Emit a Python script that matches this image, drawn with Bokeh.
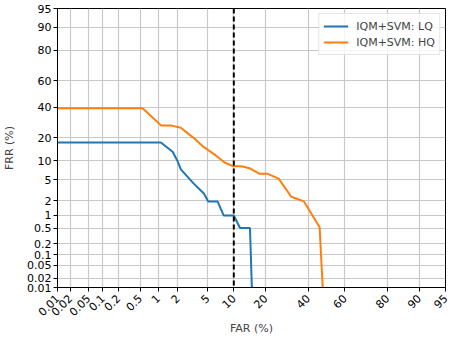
import math
from bokeh.plotting import figure
from bokeh.models import ColumnDataSource, FixedTicker, Span, Legend, LegendItem
from bokeh.embed import file_html
from bokeh.resources import INLINE

# ---- data (percent) ----
LQ_FAR = [0.01, 1.1, 1.67, 1.96, 2.2, 3.3, 4.5, 5.1, 5.7, 6.6, 7.75, 10.0, 11.6, 14.5, 15.1]
LQ_FRR = [17.6, 17.6, 13.4, 10.0, 7.4, 4.3, 2.8, 1.95, 1.95, 1.95, 0.98, 0.98, 0.5, 0.5, 0.01]

HQ_FAR = [0.01, 0.55, 1.12, 1.62, 2.2, 2.87, 3.42, 4.41, 6.3, 7.95, 9.8, 12.3, 14.6,
          17.8, 20.8, 25.4, 31.3, 37.7, 46.2, 47.9]
HQ_FRR = [39.2, 39.2, 27.2, 27.2, 25.8, 21.9, 19.5, 15.6, 11.9, 9.4, 8.3, 8.2, 7.6,
          6.25, 6.25, 5.2, 2.42, 1.96, 0.52, 0.01]

TICKS = [0.01, 0.02, 0.05, 0.1, 0.2, 0.5, 1, 2, 5, 10, 20, 40, 60, 80, 90, 95]
TICK_LABELS = ["0.01", "0.02", "0.05", "0.1", "0.2", "0.5", "1", "2", "5",
               "10", "20", "40", "60", "80", "90", "95"]
THRESHOLD = 10  # FAR (%)
AX_MIN, AX_MAX = 0.01, 95
SERIES = ["IQM+SVM: LQ", "IQM+SVM: HQ"]


def probit(pct):
    p = pct / 100.0
    lo, hi = -12.0, 12.0
    for _ in range(80):
        mid = 0.5 * (lo + hi)
        if 0.5 * (1 + math.erf(mid / math.sqrt(2))) < p:
            lo = mid
        else:
            hi = mid
    return 0.5 * (lo + hi)


FONT = "DejaVu Sans"
FS = 11
rng = (probit(AX_MIN), probit(AX_MAX))

p = figure(width=452, height=338, output_backend="svg", toolbar_location=None,
           x_range=rng, y_range=rng,
           min_border_left=54, min_border_right=7, min_border_top=8, min_border_bottom=40)
p.outline_line_color = "black"
p.outline_line_width = 1
p.background_fill_color = "white"
p.border_fill_color = "white"

src_lq = ColumnDataSource(dict(x=[probit(v) for v in LQ_FAR], y=[probit(v) for v in LQ_FRR]))
src_hq = ColumnDataSource(dict(x=[probit(v) for v in HQ_FAR], y=[probit(v) for v in HQ_FRR]))
r1 = p.line("x", "y", source=src_lq, line_color="#1f77b4", line_width=2)
r2 = p.line("x", "y", source=src_hq, line_color="#ff7f0e", line_width=2)

p.add_layout(Span(location=probit(THRESHOLD), dimension="height", line_color="black",
                  line_width=2, line_dash="5 3"))

tick_pos = [probit(t) for t in TICKS]
overrides = {tp: lab for tp, lab in zip(tick_pos, TICK_LABELS)}
for ax in (p.xaxis[0], p.yaxis[0]):
    ax.ticker = FixedTicker(ticks=tick_pos)
    ax.major_label_overrides = overrides
    ax.major_label_text_font = FONT
    ax.major_label_text_font_size = f"{FS}px"
    ax.major_label_text_color = "black"
    ax.axis_label_text_font = FONT
    ax.axis_label_text_font_size = f"{FS}px"
    ax.axis_label_text_font_style = "normal"
    ax.axis_line_color = "black"
    ax.major_tick_line_color = "black"
    ax.major_tick_out = 4
    ax.major_tick_in = 0
    ax.minor_tick_line_color = None

p.xaxis.axis_label = "FAR (%)"
p.yaxis.axis_label = "FRR (%)"
p.xaxis.major_label_orientation = math.pi / 4
p.xaxis.major_label_standoff = 5
p.xaxis.axis_label_standoff = 0
p.yaxis.major_label_standoff = 2
p.yaxis.axis_label_standoff = 8

for g in (p.xgrid[0], p.ygrid[0]):
    g.ticker = FixedTicker(ticks=tick_pos)
    g.grid_line_color = "#c8c8c8"
    g.grid_line_width = 1.2

legend = Legend(items=[LegendItem(label=SERIES[0], renderers=[r1]),
                       LegendItem(label=SERIES[1], renderers=[r2])],
                location="top_right")
legend.label_text_font = FONT
legend.label_text_font_size = f"{FS}px"
legend.glyph_width = 25
legend.glyph_height = 16
legend.label_height = 16
legend.label_standoff = 8
legend.spacing = 0
legend.padding = 4
legend.margin = 5
legend.border_line_color = "#cccccc"
legend.border_line_width = 1
legend.background_fill_alpha = 0.8
p.add_layout(legend)

open("out.html", "w").write(file_html(p, INLINE))
